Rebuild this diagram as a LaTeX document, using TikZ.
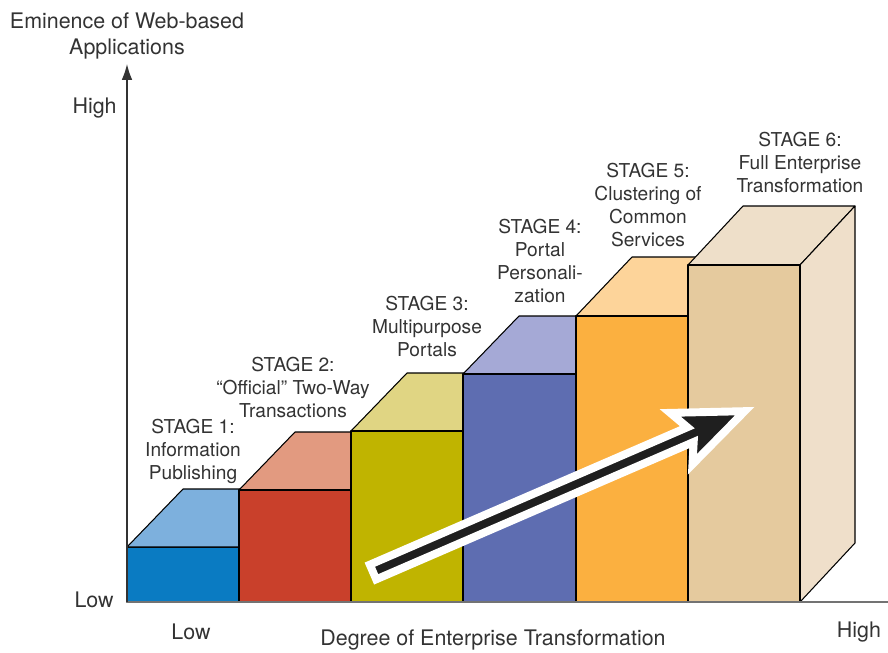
\documentclass[tikz,border=0pt]{standalone}
\usepackage{fontspec}
\setmainfont{TeX Gyre Heros}
\usetikzlibrary{arrows.meta}

\definecolor{textgrey}{HTML}{333333}
\definecolor{sonefront}{HTML}{0A7BC2}
\definecolor{sonetop}{HTML}{7DB0DD}
\definecolor{stwofront}{HTML}{C9402B}
\definecolor{stwotop}{HTML}{E29A80}
\definecolor{sthreefront}{HTML}{C0B400}
\definecolor{sthreetop}{HTML}{E0D583}
\definecolor{sfourfront}{HTML}{5E6DB1}
\definecolor{sfourtop}{HTML}{A5A9D6}
\definecolor{sfivefront}{HTML}{FBB040}
\definecolor{sfivetop}{HTML}{FDD49A}
\definecolor{ssixfront}{HTML}{E5CA9E}
\definecolor{ssixtop}{HTML}{EEDFC9}
\definecolor{ssixside}{HTML}{EFDFCA}

\begin{document}
\begin{tikzpicture}[x=0.02cm, y=-0.02cm,
  face/.style={draw=black, line width=0.6pt, line join=round},
  stage label/.style={align=center, anchor=north, inner sep=0pt, text=textgrey,
    font=\fontsize{10.9}{13.1}\selectfont},
  axis label/.style={inner sep=0pt, text=textgrey, font=\fontsize{12.2}{15.3}\selectfont}]

  \useasboundingbox (0,0) rectangle (888,652);

  % stage 1
  \filldraw[face, fill=sonefront] (127,547) rectangle (239,602);
  \filldraw[face, fill=sonetop] (127,547) -- (239,547) -- (295,489) -- (183,489) -- cycle;
  % stage 2
  \filldraw[face, fill=stwotop] (239,490) -- (351,490) -- (407,432) -- (295,432) -- cycle;
  \filldraw[face, fill=stwofront] (239,490) rectangle (351,602);
  % stage 3
  \filldraw[face, fill=sthreetop] (351,431) -- (463,431) -- (519,373) -- (407,373) -- cycle;
  \filldraw[face, fill=sthreefront] (351,431) rectangle (463,602);
  % stage 4
  \filldraw[face, fill=sfourtop] (463,374) -- (576,374) -- (632,316) -- (519,316) -- cycle;
  \filldraw[face, fill=sfourfront] (463,374) rectangle (576,602);
  % stage 5
  \filldraw[face, fill=sfivetop] (576,316) -- (688,316) -- (744,257) -- (632,257) -- cycle;
  \filldraw[face, fill=sfivefront] (576,316) rectangle (688,602);
  % stage 6
  \filldraw[face, fill=ssixtop] (688,265) -- (800,265) -- (855,206) -- (743,206) -- cycle;
  \filldraw[face, fill=ssixside] (800,265) -- (855,206) -- (855,543) -- (800,602) -- cycle;
  \filldraw[face, fill=ssixfront] (688,265) rectangle (800,602);

  % axes
  \coordinate (origin) at (127,602);
  \coordinate (ytop) at (127,64);
  \coordinate (xend) at (888,602);
  \draw[black!55, line width=0.9pt] (origin) -- (xend);
  \draw[textgrey, line width=0.7pt, -{Latex[length=9pt, width=6pt]}] (origin) -- (ytop);

  % growth arrow
  \begin{scope}[shift={(373,572)}, rotate=23.4]
    \filldraw[fill=black!88, draw=white, line width=4.5pt, miter limit=20]
      (0,-8) -- (346,-8) -- (336,-28) -- (405,0) -- (336,28) -- (346,8) -- (0,8) -- cycle;
  \end{scope}

  % axis labels
  \node[axis label, align=center] (yname) at (127,36) {Eminence of Web-based\\Applications};
  \node[axis label, anchor=east] (yhigh) at (117,108) {High};
  \node[axis label, anchor=east] (ylow) at (114,600) {Low};
  \node[axis label] (xlow) at (191,632) {Low};
  \node[axis label] (xname) at (493,640) {Degree of Enterprise Transformation};
  \node[axis label] (xhigh) at (859,632) {High};

  % stage labels
  \node[stage label] (s1) at (193,419) {STAGE 1:\\Information\\Publishing};
  \node[stage label] (s2) at (293,357) {STAGE 2:\\``Official'' Two-Way\\Transactions};
  \node[stage label] (s3) at (427,296) {STAGE 3:\\Multipurpose\\Portals};
  \node[stage label] (s4) at (540,219) {STAGE 4:\\Portal\\Personali-\\zation};
  \node[stage label] (s5) at (648,163) {STAGE 5:\\Clustering of\\Common\\Services};
  \node[stage label] (s6) at (800,132) {STAGE 6:\\Full Enterprise\\Transformation};

\end{tikzpicture}
\end{document}
